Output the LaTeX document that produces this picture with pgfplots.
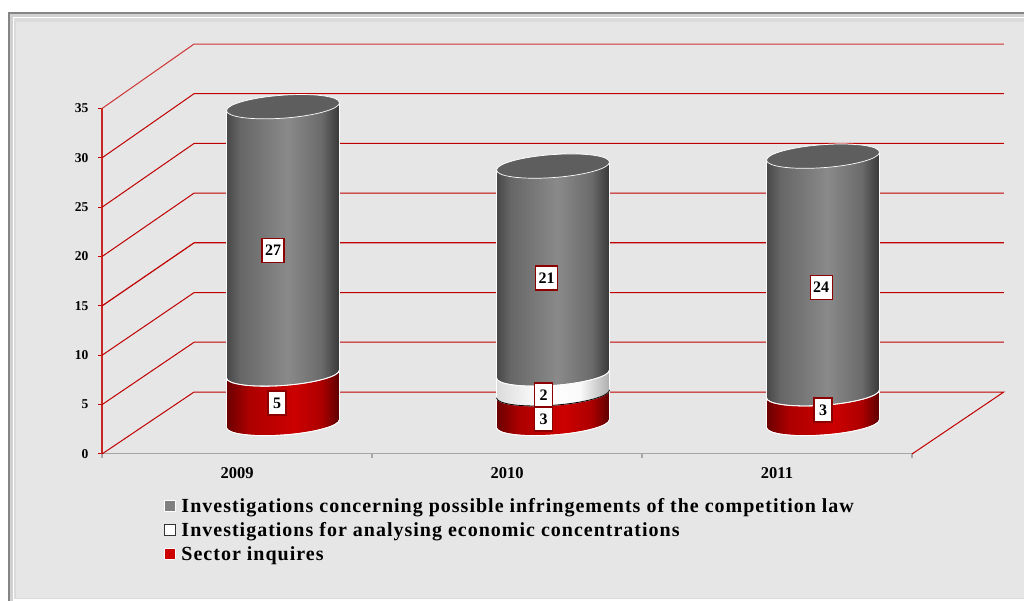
\documentclass[border=0pt]{standalone}
\usepackage{fontspec}
\setmainfont{Liberation Serif}
\newfontfamily\legendfont[LetterSpace=5]{Liberation Serif}
\usepackage{pgfplots}
\usepackage{pgfplotstable}
\pgfplotsset{compat=1.18}

\definecolor{gridred}{HTML}{C00000}
\definecolor{panel}{HTML}{E6E6E6}

% Horizontal gradients giving the cylinders their rounded look (a path spans 25bp to 75bp)
\pgfdeclarehorizontalshading{cylgrey}{100bp}{color(0bp)=(black!72!white); color(25bp)=(black!72!white); color(31bp)=(black!60!white); color(52bp)=(black!46!white); color(67bp)=(black!58!white); color(75bp)=(black!78!white); color(100bp)=(black!78!white)}
\pgfdeclarehorizontalshading{cylred}{100bp}{color(0bp)=(red!42!black); color(25bp)=(red!42!black); color(35bp)=(red!68!black); color(55bp)=(red!80!black); color(67bp)=(red!68!black); color(75bp)=(red!36!black); color(100bp)=(red!36!black)}
\pgfdeclarehorizontalshading{cylwhite}{100bp}{color(0bp)=(black!14!white); color(25bp)=(black!14!white); color(45bp)=(white); color(62bp)=(black!2!white); color(75bp)=(black!32!white); color(100bp)=(black!32!white)}

% Cylinder slice with tilted ends: the mark sits on the lower level,
% \segh is the slice height in data units
\newcommand\declcyl[3]{%
  \pgfdeclareplotmark{#1}{%
    \pgfmathsetmacro\segpt{\segh*9.9}%
    \path[draw=white, line width=0.8pt, shading=#2]
      (-56.5pt,-3.955pt)
      .. controls (-56.5pt,-10.305pt) and (-31.2pt,-13.68pt) .. (0pt,-11.5pt)
      .. controls (31.2pt,-9.32pt) and (56.5pt,-2.395pt) .. (56.5pt,3.955pt)
      -- (56.5pt,\segpt pt+3.955pt)
      .. controls (56.5pt,\segpt pt+10.305pt) and (31.2pt,\segpt pt+13.68pt) .. (0pt,\segpt pt+11.5pt)
      .. controls (-31.2pt,\segpt pt+9.32pt) and (-56.5pt,\segpt pt+2.395pt) .. (-56.5pt,\segpt pt-3.955pt)
      -- cycle;
    \draw[#3, line width=0.8pt]
      (-56.5pt,-3.955pt)
      .. controls (-56.5pt,-10.305pt) and (-31.2pt,-13.68pt) .. (0pt,-11.5pt)
      .. controls (31.2pt,-9.32pt) and (56.5pt,-2.395pt) .. (56.5pt,3.955pt);
  }}
\declcyl{slicegrey}{cylgrey}{white}
\declcyl{slicered}{cylred}{white}
\declcyl{slicewhite}{cylwhite}{black}

\pgfdeclareplotmark{cylcap}{%
  \path[draw=white, line width=0.7pt, fill=black!63!white]
    (-56.5pt,-3.955pt)
    .. controls (-56.5pt,-10.305pt) and (-31.2pt,-13.68pt) .. (0pt,-11.5pt)
    .. controls (31.2pt,-9.32pt) and (56.5pt,-2.395pt) .. (56.5pt,3.955pt)
    .. controls (56.5pt,10.305pt) and (31.2pt,13.68pt) .. (0pt,11.5pt)
    .. controls (-31.2pt,9.32pt) and (-56.5pt,2.395pt) .. (-56.5pt,-3.955pt)
    -- cycle;
}

% x = category, y = level of the slice's base, h = slice height
\pgfplotstableread{
x y h
0 0 5
1 0 3
2 0 3
}\sectorinq
\pgfplotstableread{
x y h
1 3 2
}\concentr
\pgfplotstableread{
x y h
0 5 27
1 5 21
2 3 24
}\infring
\pgfplotstableread{
x y
0 32
1 26
2 27
}\tops
\pgfplotstableread{
x y lab
-0.037 17.5 27
-0.022 2.07 5
0.976 14.7 21
0.965 2.87 2
0.965 0.45 3
1.993 13.76 24
2 1.37 3
}\valuelabels

\begin{document}
\begin{tikzpicture}[x=1pt,y=1pt]
\useasboundingbox (0,0) rectangle (1024,601);
\fill[white] (0,0) rectangle (1024,601);
% panel with its bevelled edge
\fill[black!48!white] (8,0) rectangle (1024,589);
\fill[black!18!white] (10,0) rectangle (1024,587);
\fill[white] (13,0) rectangle (1024,584);
\fill[black!14!white] (14,2) rectangle (1024,583);
\fill[panel] (16,3) rectangle (1024,579);

% front plane: value axis, category axis and the floor and wall grid
\begin{axis}[
  at={(102pt,147pt)}, anchor=south west, scale only axis,
  width=810pt, height=345.5pt,
  xmin=-0.5, xmax=2.5, ymin=0, ymax=35, clip=false,
  axis x line*=bottom, axis y line*=left,
  x axis line style={-, black!35!white, line width=1pt},
  y axis line style={-, red!75!black!85!white, line width=1.6pt},
  xtick={-0.5,0.5,1.5,2.5}, xticklabels={},
  extra x ticks={0,1,2}, extra x tick labels={2009,2010,2011},
  extra x tick style={major tick length=0pt, x tick label style={font=\bfseries\fontsize{16.5}{16.5}\selectfont, yshift=-10pt}},
  x tick style={black!35!white, line width=1.5pt},
  ytick distance=5,
  y tick style={gridred, line width=1pt},
  major tick length=4pt, tick align=outside,
  /pgf/number format/assume math mode=true,
  y tick label style={font=\bfseries\fontsize{13.5}{13.5}\selectfont, xshift=-6pt},
]
\addplot[gridred, line width=1pt] coordinates {(2.5,0) (2.84,6.28) (-0.159,6.28) (-0.5,0)};
\addplot[gridred, line width=1pt] coordinates {(-0.5,5) (-0.159,11.32) (2.84,11.32)};
\addplot[gridred, line width=1pt] coordinates {(-0.5,10) (-0.159,16.35) (2.84,16.35)};
\addplot[gridred, line width=1.2pt] coordinates {(-0.5,15) (-0.159,21.39) (2.84,21.39)};
\addplot[gridred, line width=1pt] coordinates {(-0.5,20) (-0.159,26.43) (2.84,26.43)};
\addplot[gridred, line width=1pt] coordinates {(-0.5,25) (-0.159,31.46) (2.84,31.46)};
\addplot[gridred, line width=1pt] coordinates {(-0.5,30) (-0.159,36.5) (2.84,36.5)};
\addplot[gridred!80!white, line width=1pt] coordinates {(-0.5,35) (-0.159,41.53) (2.84,41.53)};
\end{axis}

% cylinders, set half a depth behind the front plane
\begin{axis}[
  at={(148pt,177.5pt)}, anchor=south west, scale only axis,
  width=810pt, height=346.5pt,
  xmin=-0.5, xmax=2.5, ymin=0, ymax=35, clip=false,
  hide axis,
  reverse legend,
  legend cell align=left,
  legend style={at={(0.0198,-0.2093)}, anchor=north west, draw=none, fill=none,
    font=\legendfont\bfseries\fontsize{20}{20}\selectfont, row sep=4.5pt, inner sep=0pt, outer sep=0pt},
  every axis plot/.append style={scatter, only marks,
    visualization depends on={\thisrow{h}\as\segh}},
]
\addplot[mark=slicered,
  legend image code/.code={\path[draw=none] (0pt,0pt) -- (15pt,0pt); \path[draw=white,fill=red!80!black,line width=0.8pt] (0pt,-5.5pt) rectangle (11pt,5.5pt);}]
  table[x=x,y=y] {\sectorinq};
\addlegendentry{Sector inquires}
\addplot[mark=slicewhite,
  legend image code/.code={\path[draw=none] (0pt,0pt) -- (15pt,0pt); \path[draw=black!80!white,fill=white,line width=0.9pt] (0pt,-5.5pt) rectangle (11pt,5.5pt);}]
  table[x=x,y=y] {\concentr};
\addlegendentry{Investigations for analysing economic concentrations}
\addplot[mark=slicegrey,
  legend image code/.code={\path[draw=none] (0pt,0pt) -- (15pt,0pt); \path[draw=white,fill=black!50!white,line width=0.8pt] (0pt,-5.5pt) rectangle (11pt,5.5pt);}]
  table[x=x,y=y] {\infring};
\addlegendentry{Investigations concerning possible infringements of the competition law}
\addplot[forget plot, scatter=false, only marks, mark=cylcap, visualization depends on=0\as\segh]
  table[x=x,y=y] {\tops};
\addplot[forget plot, scatter=false, only marks, mark=none, visualization depends on=0\as\segh,
  point meta=explicit symbolic,
  nodes near coords,
  nodes near coords style={anchor=center, font=\bfseries\fontsize{16}{16}\selectfont, fill=white,
    draw=red!55!black, line width=1.2pt, minimum height=24pt, minimum width=18pt, inner xsep=3pt, inner ysep=0pt},
] table[x=x,y=y,meta=lab] {\valuelabels};
\end{axis}
\end{tikzpicture}
\end{document}
